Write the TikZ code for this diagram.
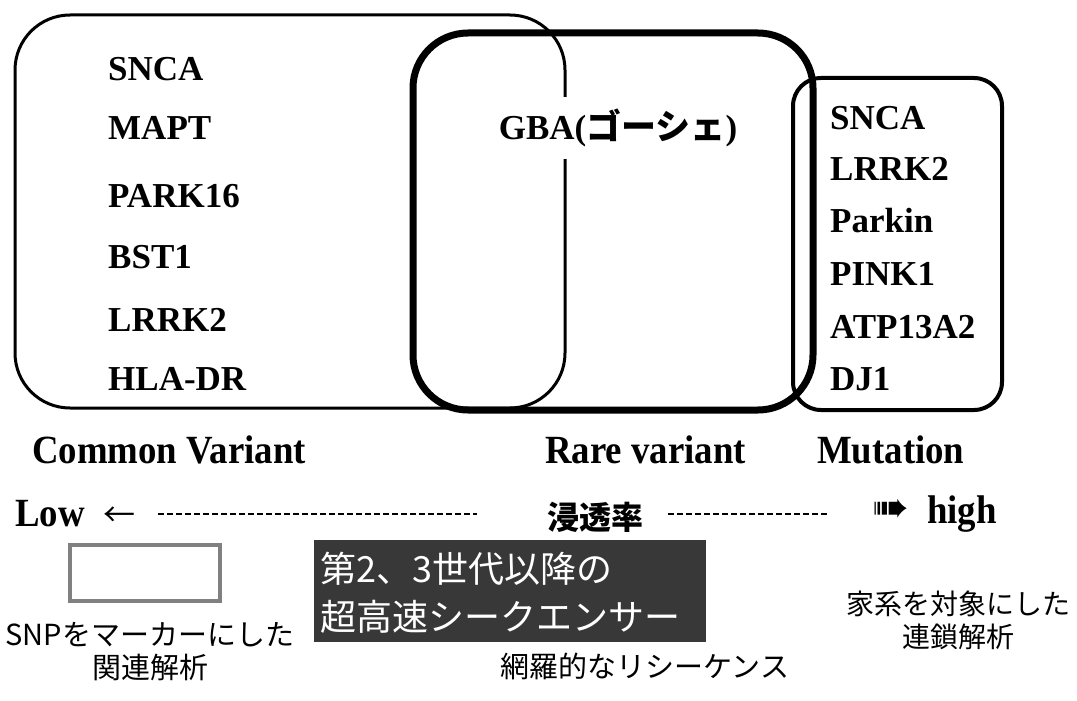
\documentclass[tikz,border=0pt]{standalone}
\usepackage{fontspec}
\setmainfont{Liberation Serif}
\newfontfamily\jp{Noto Sans CJK JP}
\newfontfamily\djv{DejaVu Sans}
\newcommand{\cnd}[1]{\scalebox{0.92}[1]{#1}}
\begin{document}
\begin{tikzpicture}[x=1pt,y=-1pt,
  gene/.style={font=\bfseries\fontsize{35}{40}\selectfont, anchor=west, inner sep=0pt},
  cat/.style={font=\bfseries\fontsize{40}{44}\selectfont, anchor=west, inner sep=0pt},
  jpl/.style={font=\jp\fontsize{29}{33}\selectfont, inner sep=0pt, align=center},
  dashline/.style={line width=2.2pt, dash pattern=on 6pt off 3pt}
]
\useasboundingbox[fill=white] (0,0) rectangle (1077,701);

% boxes
\node[draw, line width=3pt, rounded corners=55pt, minimum width=550pt, minimum height=393pt, inner sep=0pt] (common) at (290,211.5) {};
\node[draw, line width=7pt, rounded corners=55pt, minimum width=400pt, minimum height=377pt, inner sep=0pt] (rare) at (613,221.5) {};
\node[draw, line width=4pt, rounded corners=28pt, minimum width=209pt, minimum height=332pt, inner sep=0pt] (mut) at (897.5,244) {};

% left list
\node[gene] (l1) at (108,69) {SNCA};
\node[gene] (l2) at (108,128) {MAPT};
\node[gene] (l3) at (108,196) {PARK16};
\node[gene] (l4) at (108,257) {BST1};
\node[gene] (l5) at (108,320) {LRRK2};
\node[gene] (l6) at (108,379) {HLA-DR};

% GBA
\node[gene, anchor=center, fill=white, inner xsep=2pt, inner ysep=12pt] (gba) at (618,128) {GBA({\jp\bfseries ゴーシェ})};

% right list
\node[gene] (r1) at (830,118) {SNCA};
\node[gene] (r2) at (830,169) {LRRK2};
\node[gene] (r3) at (830,221) {Parkin};
\node[gene] (r4) at (830,274) {PINK1};
\node[gene] (r5) at (830,327) {ATP13A2};
\node[gene] (r6) at (830,379) {DJ1};

% category labels
\node[cat] (cv) at (32,450) {\cnd{Common Variant}};
\node[cat] (rv) at (545,450) {\cnd{Rare variant}};
\node[cat] (mu) at (817,450) {\cnd{Mutation}};

% penetrance line
\node[cat] (low) at (15,514) {\cnd{Low}};
\node[font=\jp\fontsize{32}{36}\selectfont, anchor=west, inner sep=0pt] (larr) at (103,517) {←};
\node[font=\jp\bfseries\fontsize{32}{36}\selectfont, anchor=west, inner sep=0pt] (pen) at (547,517) {浸透率};
\node[font=\djv\fontsize{44}{48}\selectfont, anchor=west, inner sep=0pt] (rarr) at (872,511) {➠};
\node[cat] (high) at (927,514) {\cnd{high}};
\coordinate (d1s) at (158,514);
\coordinate (d1e) at (477,514);
\coordinate (d2s) at (668,514);
\coordinate (d2e) at (828,514);
\draw[dashline] (d1s) -- (d1e);
\draw[dashline] (d2s) -- (d2e);

% bottom
\node[draw=gray, line width=4pt, minimum width=150pt, minimum height=56pt, inner sep=0pt] (snpbox) at (145,573) {};
\node[jpl] (snp) at (150,652) {SNPをマーカーにした\\関連解析};
\node[fill=black!78, minimum width=392pt, minimum height=102pt, inner sep=0pt] (seqbox) at (509.5,591) {};
\node[font=\jp\fontsize{36}{48}\selectfont, text=white, anchor=west, inner sep=0pt, align=left] (seqt) at (320,593) {第2、3世代以降の\\超高速シークエンサー};
\node[jpl] (reseq) at (645,666) {網羅的なリシーケンス};
\node[jpl, font=\jp\fontsize{28}{33}\selectfont] (link) at (958,620) {家系を対象にした\\連鎖解析};
\end{tikzpicture}
\end{document}
